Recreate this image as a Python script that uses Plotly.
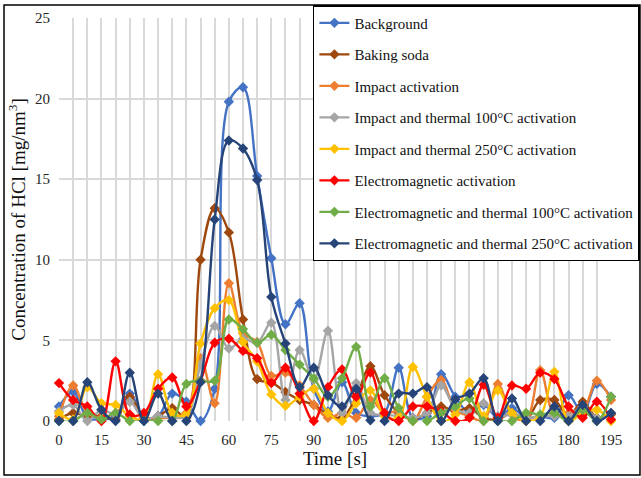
import plotly.graph_objects as go

time_s = list(range(0, 200, 5))

background = [0.9, 1.8, 0.2, 0.1, 0.3, 1.7, 0.2, 0.3, 1.7, 1.2, 0.0, 2.0, 19.8, 20.7, 15.2, 10.1, 6.0, 7.3, 2.0, 0.6,
              2.4, 0.5, 0.3, 0.5, 3.3, 0.2, 0.3, 2.9, 1.5, 0.5, 1.0, 0.2, 0.8, 0.2, 0.3, 0.2, 1.6, 0.5, 2.3, 1.5]
baking_soda = [0.1, 0.5, 0.3, 0.3, 0.1, 1.5, 0.2, 0.3, 0.8, 0.2, 10.0, 13.2, 11.7, 6.3, 2.6, 2.4, 1.8, 1.3, 1.0, 0.4,
               0.2, 1.5, 3.4, 1.6, 0.5, 0.1, 0.5, 0.9, 0.6, 0.8, 0.2, 0.1, 0.5, 0.1, 1.3, 1.3, 0.3, 1.2, 0.2, 0.4]
impact = [0.3, 2.2, 0.5, 0.2, 0.5, 1.2, 0.2, 0.2, 0.2, 0.5, 3.9, 1.1, 8.55, 5.45, 4.9, 2.8, 3.0, 2.2, 1.0, 0.2,
          0.5, 0.2, 1.3, 0.5, 0.6, 0.0, 1.5, 2.55, 0.7, 0.3, 0.0, 2.3, 0.4, 0.0, 3.15, 0.4, 0.5, 0.6, 2.5, 1.3]
impact_100 = [0.6, 1.0, 0.0, 0.7, 0.4, 1.2, 0.1, 0.3, 0.2, 0.3, 3.5, 5.9, 4.5, 5.1, 4.85, 6.1, 1.3, 4.4, 2.55, 5.6,
              0.5, 2.35, 0.5, 0.4, 0.3, 0.2, 0.5, 2.2, 0.8, 0.5, 1.1, 0.3, 0.4, 0.2, 0.3, 0.3, 0.3, 0.9, 0.2, 0.5]
impact_250 = [0.5, 0.1, 2.1, 1.1, 1.0, 0.3, 0.1, 2.9, 0.5, 0.4, 4.8, 7.0, 7.5, 4.9, 3.7, 1.65, 0.95, 1.5, 2.0, 0.5,
              0.0, 1.1, 1.9, 0.3, 0.2, 3.35, 1.5, 0.0, 0.4, 2.4, 0.3, 1.9, 0.5, 0.0, 0.3, 3.05, 0.0, 0.5, 0.7, 0.0]
em = [2.35, 1.3, 0.9, 0.0, 3.7, 0.4, 0.5, 2.0, 2.7, 0.9, 2.5, 4.85, 5.1, 4.35, 3.9, 2.35, 3.3, 1.7, 0.0, 2.1,
      3.2, 1.5, 3.0, 0.5, 0.0, 0.9, 0.9, 0.6, 0.0, 0.2, 2.25, 0.2, 2.2, 2.0, 3.0, 2.6, 0.9, 0.2, 1.2, 0.1]
em_100 = [0.0, 0.0, 0.5, 0.1, 0.5, 0.0, 0.0, 0.0, 0.0, 2.3, 2.5, 2.5, 6.3, 5.7, 4.85, 5.35, 4.4, 3.5, 2.65, 1.5,
          2.65, 4.6, 0.9, 2.65, 0.8, 0.0, 0.0, 0.5, 0.9, 1.4, 0.0, 0.0, 0.0, 0.5, 0.4, 0.5, 0.0, 0.7, 0.0, 1.5]
em_250 = [0.0, 0.0, 2.4, 0.7, 0.0, 3.0, 0.0, 1.7, 0.0, 0.0, 2.4, 12.5, 17.4, 16.9, 14.95, 7.7, 4.8, 2.1, 3.3, 1.6,
          0.9, 2.0, 0.05, 0.0, 1.7, 1.7, 2.1, 0.0, 1.35, 1.7, 2.65, 0.0, 1.4, 0.0, 0.0, 0.9, 0.0, 1.0, 0.0, 0.5]

series_names = ["Background", "Baking soda", "Impact activation", "Impact and thermal 100°C activation",
                "Impact and thermal 250°C activation", "Electromagnetic activation",
                "Electromagnetic and thermal 100°C activation", "Electromagnetic and thermal 250°C activation"]
series_values = [background, baking_soda, impact, impact_100, impact_250, em, em_100, em_250]
series_colors = ["#4472C4", "#9E480E", "#ED7D31", "#A5A5A5", "#FFC000", "#FF0000", "#70AD47", "#264478"]

x_tick_labels = [str(t) if t % 15 == 0 else "" for t in time_s]

FONT = "Liberation Serif, Times New Roman, serif"

fig = go.Figure()
for i, (name, vals, col) in enumerate(zip(series_names, series_values, series_colors)):
    fig.add_trace(go.Scatter(
        x=time_s, y=vals, name=name, mode="lines+markers",
        line=dict(color=col, width=2.4, shape="spline", smoothing=1.0),
        marker=dict(symbol="diamond", size=8, color=col),
        cliponaxis=False, legendgroup=f"g{i}",
    ))

fig.update_layout(
    width=641, height=478,
    margin=dict(l=59, r=30, t=18, b=57, autoexpand=False),
    paper_bgcolor="white", plot_bgcolor="white",
    font=dict(family=FONT, color="#222222", size=15),
    showlegend=True,
    legend=dict(
        x=0.46, y=1.032, xanchor="left", yanchor="top",
        bgcolor="white", bordercolor="black", borderwidth=1.5,
        font=dict(family=FONT, size=15, color="#111111"),
        tracegroupgap=9, itemwidth=30, maxheight=470,
    ),
    xaxis=dict(
        range=[0, 195], tickmode="array", tickvals=time_s, ticktext=x_tick_labels,
        showgrid=True, gridcolor="#D9D9D9", gridwidth=1.5, zeroline=False,
        showline=False, ticks="", ticklabelstandoff=8,
        title=dict(text="Time [s]", font=dict(family=FONT, size=19, color="#111111"), standoff=2),
        tickfont=dict(family=FONT, size=15, color="#262626"),
    ),
    yaxis=dict(
        range=[0, 25], dtick=5, showgrid=True, gridcolor="#D9D9D9", gridwidth=1.5,
        zeroline=False, showline=False, ticks="", ticklabelstandoff=8,
        title=dict(text="Concentration of HCl [mg/nm<sup>3</sup>]",
                   font=dict(family=FONT, size=19, color="#111111"), standoff=4),
        tickfont=dict(family=FONT, size=15, color="#262626"),
    ),
    shapes=[dict(type="rect", xref="paper", yref="paper",
                 x0=-0.0996, x1=1.0525, y0=-0.134, y1=1.032,
                 line=dict(color="black", width=1.5), layer="below")],
)

fig.write_html("out.html", config={"displayModeBar": False},
               post_script="document.body.style.margin='0';document.body.style.overflow='hidden';")
